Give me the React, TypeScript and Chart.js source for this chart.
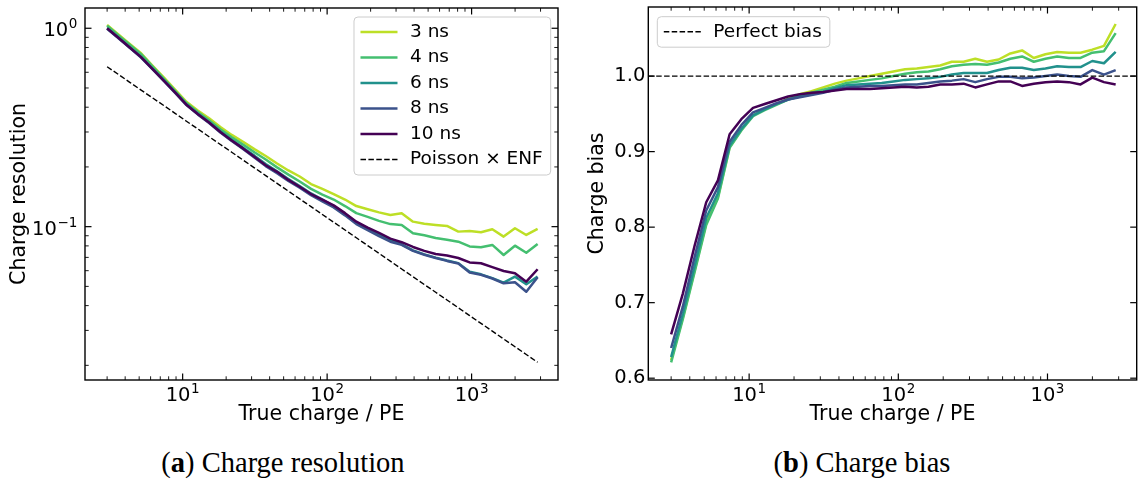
import React, { useEffect, useRef } from "react";
import { Chart, registerables } from "chart.js";

Chart.register(...registerables);

// ---------------- data ----------------
const trueCharge = [
  3, 3.594, 4.305, 5.157, 6.177, 7.4, 8.864, 10.62, 12.72, 15.24, 18.25, 21.86, 26.19,
  31.37, 37.58, 45.02, 53.93, 64.6, 77.38, 92.69, 111, 133, 159.3, 190.8, 228.6, 273.9,
  328.1, 393, 470.7, 563.9, 675.5, 809.2, 969.3, 1161, 1391, 1666, 1996, 2391, 2864,
];

const seriesLabels = ["3 ns", "4 ns", "6 ns", "8 ns", "10 ns"];
const seriesColors = ["#bddf26", "#44bf70", "#21918c", "#3b528b", "#440154"];

const res3ns = [1.04, 0.93, 0.833, 0.748, 0.649, 0.565, 0.491, 0.426, 0.385, 0.352, 0.318, 0.29, 0.268, 0.246, 0.227, 0.208, 0.192, 0.179, 0.164, 0.155, 0.146, 0.137, 0.127, 0.1225, 0.118, 0.1146, 0.1168, 0.106, 0.1035, 0.102, 0.1008, 0.0944, 0.0951, 0.0937, 0.097, 0.0891, 0.0982, 0.0908, 0.0974];
const res4ns = [1.03, 0.92, 0.825, 0.74, 0.642, 0.558, 0.484, 0.42, 0.378, 0.344, 0.31, 0.282, 0.259, 0.237, 0.218, 0.199, 0.183, 0.169, 0.155, 0.145, 0.137, 0.127, 0.117, 0.112, 0.107, 0.103, 0.102, 0.0926, 0.0905, 0.0876, 0.086, 0.084, 0.0795, 0.0787, 0.0809, 0.072, 0.0802, 0.0739, 0.0818];
const res6ns = [1.0, 0.895, 0.8, 0.716, 0.626, 0.547, 0.477, 0.414, 0.371, 0.336, 0.302, 0.274, 0.25, 0.228, 0.207, 0.19, 0.174, 0.16, 0.147, 0.137, 0.127, 0.116, 0.105, 0.098, 0.091, 0.0855, 0.0815, 0.076, 0.0725, 0.0698, 0.0675, 0.0655, 0.0592, 0.0575, 0.055, 0.0522, 0.056, 0.0513, 0.056];
const res8ns = [0.995, 0.89, 0.797, 0.712, 0.622, 0.543, 0.473, 0.41, 0.368, 0.333, 0.298, 0.27, 0.246, 0.223, 0.202, 0.186, 0.17, 0.157, 0.144, 0.134, 0.125, 0.114, 0.103, 0.096, 0.0895, 0.084, 0.081, 0.0755, 0.0722, 0.0695, 0.0672, 0.0652, 0.0588, 0.0572, 0.0548, 0.0518, 0.0525, 0.047, 0.0556];
const res10ns = [1.0, 0.895, 0.8, 0.715, 0.625, 0.545, 0.475, 0.412, 0.37, 0.335, 0.3, 0.272, 0.248, 0.225, 0.204, 0.189, 0.172, 0.159, 0.146, 0.137, 0.128, 0.117, 0.106, 0.099, 0.093, 0.087, 0.0835, 0.079, 0.0755, 0.0728, 0.0715, 0.0695, 0.066, 0.0654, 0.0625, 0.0598, 0.0582, 0.0528, 0.061];
const poissonEnf = [0.64, 0.585, 0.534, 0.488, 0.446, 0.408, 0.3725, 0.34, 0.311, 0.284, 0.2596, 0.2372, 0.2167, 0.198, 0.1809, 0.1653, 0.151, 0.138, 0.1261, 0.1152, 0.1053, 0.0962, 0.0879, 0.0803, 0.0733, 0.067, 0.0612, 0.0559, 0.0511, 0.0467, 0.0427, 0.039, 0.0356, 0.03255, 0.02974, 0.02717, 0.02482, 0.02268, 0.02072];

const bias3ns = [0.624, 0.68, 0.742, 0.805, 0.84, 0.906, 0.929, 0.948, 0.956, 0.963, 0.97, 0.976, 0.98, 0.985, 0.99, 0.994, 0.997, 1.0, 1.003, 1.006, 1.009, 1.01, 1.012, 1.014, 1.019, 1.019, 1.023, 1.019, 1.022, 1.03, 1.034, 1.024, 1.029, 1.032, 1.031, 1.031, 1.035, 1.04, 1.069];
const bias4ns = [0.621, 0.678, 0.74, 0.803, 0.838, 0.905, 0.928, 0.947, 0.955, 0.962, 0.969, 0.974, 0.978, 0.982, 0.986, 0.991, 0.993, 0.995, 0.997, 1.0, 1.003, 1.005, 1.006, 1.009, 1.013, 1.015, 1.016, 1.015, 1.018, 1.023, 1.026, 1.019, 1.023, 1.026, 1.024, 1.024, 1.031, 1.033, 1.057];
const bias6ns = [0.628, 0.685, 0.748, 0.812, 0.845, 0.908, 0.93, 0.948, 0.956, 0.963, 0.969, 0.973, 0.976, 0.979, 0.984, 0.988, 0.989, 0.99, 0.991, 0.993, 0.995, 0.996, 0.997, 0.999, 1.002, 1.004, 1.004, 1.004, 1.008, 1.011, 1.011, 1.008, 1.01, 1.013, 1.012, 1.012, 1.02, 1.017, 1.032];
const bias8ns = [0.64, 0.695, 0.76, 0.822, 0.853, 0.913, 0.935, 0.952, 0.958, 0.964, 0.969, 0.972, 0.975, 0.978, 0.982, 0.985, 0.986, 0.987, 0.987, 0.988, 0.989, 0.989, 0.991, 0.993, 0.994, 0.996, 0.992, 0.996, 0.999, 0.999, 0.997, 0.998, 1.0, 1.002, 1.0, 0.999, 1.008, 1.002, 1.008];
const bias10ns = [0.658, 0.712, 0.775, 0.833, 0.862, 0.923, 0.943, 0.958, 0.963, 0.968, 0.973, 0.976, 0.978, 0.979, 0.981, 0.983, 0.983, 0.983, 0.984, 0.985, 0.986, 0.985, 0.986, 0.989, 0.989, 0.99, 0.985, 0.989, 0.993, 0.993, 0.987, 0.99, 0.992, 0.993, 0.992, 0.989, 0.998, 0.992, 0.989];
const perfectBiasValue = 1.0;

// axis ranges and tick labels
const X_MIN = 2.109;
const X_MAX = 3963;
const RES_Y_MIN = 0.01687;
const RES_Y_MAX = 1.265;
const BIAS_Y_MIN = 0.5976;
const BIAS_Y_MAX = 1.0915;

const xTickValues = [10, 100, 1000];
const xTickExponents = ["1", "2", "3"];
const resTickValues = [0.1, 1];
const resTickExponents = ["\u22121", "0"];
const biasTickValues = [0.6, 0.7, 0.8, 0.9, 1.0];
const biasTickLabels = ["0.6", "0.7", "0.8", "0.9", "1.0"];

// ---------------- helpers ----------------
const FONT = "'DejaVu Sans', sans-serif";
const TICK_SIZE = 19.5;
const EXP_SIZE = 13.5;
const TITLE_SIZE = 20.5;
const LEGEND_SIZE = 18.5;

function logMinors(min: number, max: number): number[] {
  const out: number[] = [];
  for (let e = -4; e <= 5; e++) {
    for (let m = 2; m <= 9; m++) {
      const v = m * Math.pow(10, e);
      if (v >= min && v <= max) out.push(v);
    }
  }
  return out;
}

const mplAxesPlugin = {
  id: "mplAxes",
  afterDatasetsDraw(chart: any, _args: any, opts: any) {
    const { ctx, chartArea: a, scales } = chart;
    const xs = scales.x;
    const ys = scales.y;
    ctx.save();
    ctx.strokeStyle = "#000";
    ctx.setLineDash([]);
    const seg = (x1: number, y1: number, x2: number, y2: number) => {
      ctx.beginPath();
      ctx.moveTo(x1, y1);
      ctx.lineTo(x2, y2);
      ctx.stroke();
    };
    const tx = (vals: number[], len: number, lw: number) => {
      ctx.lineWidth = lw;
      for (const v of vals) {
        const p = xs.getPixelForValue(v);
        if (p < a.left - 0.5 || p > a.right + 0.5) continue;
        seg(p, a.bottom, p, a.bottom - len);
        seg(p, a.top, p, a.top + len);
      }
    };
    const ty = (vals: number[], len: number, lw: number) => {
      ctx.lineWidth = lw;
      for (const v of vals) {
        const p = ys.getPixelForValue(v);
        if (p < a.top - 0.5 || p > a.bottom + 0.5) continue;
        seg(a.left, p, a.left + len, p);
        seg(a.right, p, a.right - len, p);
      }
    };
    tx(opts.xMajor || [], 6.5, 1.2);
    tx(opts.xMinor || [], 3.7, 0.9);
    ty(opts.yMajor || [], 6.5, 1.2);
    ty(opts.yMinor || [], 3.7, 0.9);
    ctx.lineWidth = 1.4;
    ctx.strokeRect(a.left, a.top, a.right - a.left, a.bottom - a.top);

    // power-of-ten tick labels (10 with a raised exponent)
    ctx.fillStyle = "#000";
    ctx.textBaseline = "alphabetic";
    ctx.textAlign = "left";
    const baseFont = `${TICK_SIZE}px ${FONT}`;
    const expFont = `${EXP_SIZE}px ${FONT}`;
    const measure = (exp: string) => {
      ctx.font = baseFont;
      const wb = ctx.measureText("10").width;
      ctx.font = expFont;
      const we = ctx.measureText(exp).width;
      return { wb, we };
    };
    const drawPow = (x: number, baseline: number, exp: string, wb: number) => {
      ctx.font = baseFont;
      ctx.fillText("10", x, baseline);
      ctx.font = expFont;
      ctx.fillText(exp, x + wb + 0.5, baseline - 8);
    };
    if (opts.xPow) {
      opts.xPow.values.forEach((v: number, i: number) => {
        const exp = opts.xPow.exps[i];
        const { wb, we } = measure(exp);
        const p = xs.getPixelForValue(v);
        drawPow(p - (wb + we + 0.5) / 2, a.bottom + 20.7, exp, wb);
      });
    }
    if (opts.yPow) {
      opts.yPow.values.forEach((v: number, i: number) => {
        const exp = opts.yPow.exps[i];
        const { wb, we } = measure(exp);
        const p = ys.getPixelForValue(v);
        drawPow(a.left - 7.7 - (wb + we + 0.5), p + 8, exp, wb);
      });
    }

    // legend (matplotlib style)
    const lg = opts.legend;
    if (lg) {
      ctx.font = `${LEGEND_SIZE}px ${FONT}`;
      const items = lg.indices.map((i: number) => chart.data.datasets[i]);
      const textW = Math.max(...items.map((d: any) => ctx.measureText(d.label).width));
      const w = 56 + textW + 8;
      const rowH = 25.5;
      const h = (items.length - 1) * rowH + 30.5;
      const x0 = lg.anchor === "right" ? a.right - lg.dx - w : a.left + lg.dx;
      const y0 = a.top + lg.dy;
      ctx.beginPath();
      const r = 4;
      ctx.moveTo(x0 + r, y0);
      ctx.lineTo(x0 + w - r, y0);
      ctx.arcTo(x0 + w, y0, x0 + w, y0 + r, r);
      ctx.lineTo(x0 + w, y0 + h - r);
      ctx.arcTo(x0 + w, y0 + h, x0 + w - r, y0 + h, r);
      ctx.lineTo(x0 + r, y0 + h);
      ctx.arcTo(x0, y0 + h, x0, y0 + h - r, r);
      ctx.lineTo(x0, y0 + r);
      ctx.arcTo(x0, y0, x0 + r, y0, r);
      ctx.closePath();
      ctx.fillStyle = "rgba(255,255,255,0.8)";
      ctx.fill();
      ctx.strokeStyle = "#cccccc";
      ctx.lineWidth = 1;
      ctx.stroke();
      items.forEach((d: any, k: number) => {
        const cy = y0 + 15 + k * rowH;
        ctx.strokeStyle = d.borderColor;
        ctx.lineWidth = d.borderWidth;
        ctx.setLineDash(d.borderDash || []);
        seg(x0 + 6.5, cy, x0 + 43.5, cy);
        ctx.setLineDash([]);
        ctx.fillStyle = "#000";
        ctx.textBaseline = "middle";
        ctx.textAlign = "left";
        ctx.fillText(d.label, x0 + 56, cy);
      });
    }
    ctx.restore();
  },
};

function makeLine(label: string, ys: number[], color: string, order: number, dashed = false) {
  return {
    label,
    data: trueCharge.map((x, i) => ({ x, y: ys[i] })),
    borderColor: color,
    backgroundColor: color,
    borderWidth: dashed ? 1.4 : 2.5,
    borderDash: dashed ? [5.5, 2.4] : [],
    pointRadius: 0,
    tension: 0,
    fill: false,
    order,
    borderJoinStyle: "round",
    borderCapStyle: "butt",
  };
}

function baseX(height: number) {
  return {
    type: "logarithmic",
    min: X_MIN,
    max: X_MAX,
    grid: { display: false, drawTicks: false },
    border: { display: false },
    afterBuildTicks: (s: any) => {
      s.ticks = xTickValues.map((v) => ({ value: v }));
    },
    afterFit: (s: any) => {
      s.height = height;
      s.paddingLeft = 0;
      s.paddingRight = 0;
    },
    ticks: { display: false },
    title: {
      display: true,
      text: "True charge / PE",
      color: "#000",
      font: { family: FONT, size: TITLE_SIZE },
      padding: { top: 0, bottom: 13 },
    },
  };
}

// ---------------- charts ----------------
function ResolutionChart() {
  const ref = useRef<HTMLCanvasElement | null>(null);
  useEffect(() => {
    if (!ref.current) return;
    const series = [res3ns, res4ns, res6ns, res8ns, res10ns];
    const datasets: any[] = series.map((s, i) => makeLine(seriesLabels[i], s, seriesColors[i], 5 - i));
    datasets.push(makeLine("Poisson × ENF", poissonEnf, "#000", 0, true));
    const chart = new Chart(ref.current, {
      type: "line",
      data: { datasets },
      plugins: [mplAxesPlugin],
      options: {
        animation: false,
        responsive: false,
        devicePixelRatio: 1,
        events: [],
        layout: { padding: { top: 8, right: 11, left: 0, bottom: 0 } },
        plugins: {
          legend: { display: false },
          tooltip: { enabled: false },
          mplAxes: {
            xMajor: xTickValues,
            xMinor: logMinors(X_MIN, X_MAX),
            yMajor: resTickValues,
            yMinor: logMinors(RES_Y_MIN, RES_Y_MAX),
            xPow: { values: xTickValues, exps: xTickExponents },
            yPow: { values: resTickValues, exps: resTickExponents },
            legend: { anchor: "right", dx: 7.3, dy: 9, indices: [0, 1, 2, 3, 4, 5] },
          },
        },
        scales: {
          x: baseX(60),
          y: {
            type: "logarithmic",
            min: RES_Y_MIN,
            max: RES_Y_MAX,
            grid: { display: false, drawTicks: false },
            border: { display: false },
            afterBuildTicks: (s: any) => {
              s.ticks = resTickValues.map((v) => ({ value: v }));
            },
            afterFit: (s: any) => {
              s.width = 85;
              s.paddingTop = 0;
              s.paddingBottom = 0;
            },
            ticks: { display: false },
            title: {
              display: true,
              text: "Charge resolution",
              color: "#000",
              font: { family: FONT, size: TITLE_SIZE },
              padding: { top: 7.5, bottom: 0 },
            },
          },
        },
      } as any,
    } as any);
    return () => chart.destroy();
  }, []);
  return <canvas ref={ref} width={569} height={440} style={{ position: "absolute", left: 0, top: 0 }} />;
}

function BiasChart() {
  const ref = useRef<HTMLCanvasElement | null>(null);
  useEffect(() => {
    if (!ref.current) return;
    const series = [bias3ns, bias4ns, bias6ns, bias8ns, bias10ns];
    const datasets: any[] = series.map((s, i) => makeLine(seriesLabels[i], s, seriesColors[i], 5 - i));
    datasets.push({
      label: "Perfect bias",
      data: [
        { x: X_MIN, y: perfectBiasValue },
        { x: X_MAX, y: perfectBiasValue },
      ],
      borderColor: "#000",
      borderWidth: 1.4,
      borderDash: [5.5, 2.4],
      pointRadius: 0,
      fill: false,
      order: 0,
    });
    const chart = new Chart(ref.current, {
      type: "line",
      data: { datasets },
      plugins: [mplAxesPlugin],
      options: {
        animation: false,
        responsive: false,
        devicePixelRatio: 1,
        events: [],
        layout: { padding: { top: 7, right: 1.3, left: 0, bottom: 0 } },
        plugins: {
          legend: { display: false },
          tooltip: { enabled: false },
          mplAxes: {
            xMajor: xTickValues,
            xMinor: logMinors(X_MIN, X_MAX),
            yMajor: biasTickValues,
            yMinor: [],
            xPow: { values: xTickValues, exps: xTickExponents },
            legend: { anchor: "left", dx: 9, dy: 9.7, indices: [5] },
          },
        },
        scales: {
          x: baseX(60),
          y: {
            type: "linear",
            min: BIAS_Y_MIN,
            max: BIAS_Y_MAX,
            grid: { display: false, drawTicks: false },
            border: { display: false },
            afterBuildTicks: (s: any) => {
              s.ticks = biasTickValues.map((v) => ({ value: v }));
            },
            afterFit: (s: any) => {
              s.width = 79.3;
              s.paddingTop = 0;
              s.paddingBottom = 0;
            },
            ticks: {
              autoSkip: false,
              padding: 3,
              color: "#000",
              font: { family: FONT, size: TICK_SIZE },
              callback: (_v: any, i: number) => biasTickLabels[i],
            },
            title: {
              display: true,
              text: "Charge bias",
              color: "#000",
              font: { family: FONT, size: TITLE_SIZE },
              padding: { top: 16, bottom: 0 },
            },
          },
        },
      } as any,
    } as any);
    return () => chart.destroy();
  }, []);
  return <canvas ref={ref} width={569} height={440} style={{ position: "absolute", left: 569, top: 0 }} />;
}

const captionStyle: React.CSSProperties = {
  position: "absolute",
  top: 449,
  width: 400,
  textAlign: "center",
  fontFamily: "'Liberation Serif', serif",
  fontSize: 28.5,
  lineHeight: "28.5px",
  color: "#000",
  whiteSpace: "nowrap",
};

export default function App() {
  return (
    <div style={{ position: "absolute", left: 0, top: 0, width: 1138, height: 483, background: "#fff", overflow: "hidden" }}>
      <ResolutionChart />
      <BiasChart />
      <div style={{ ...captionStyle, left: 283 - 200 }}>
        (<b>a</b>) Charge resolution
      </div>
      <div style={{ ...captionStyle, left: 862 - 200 }}>
        (<b>b</b>) Charge bias
      </div>
    </div>
  );
}
